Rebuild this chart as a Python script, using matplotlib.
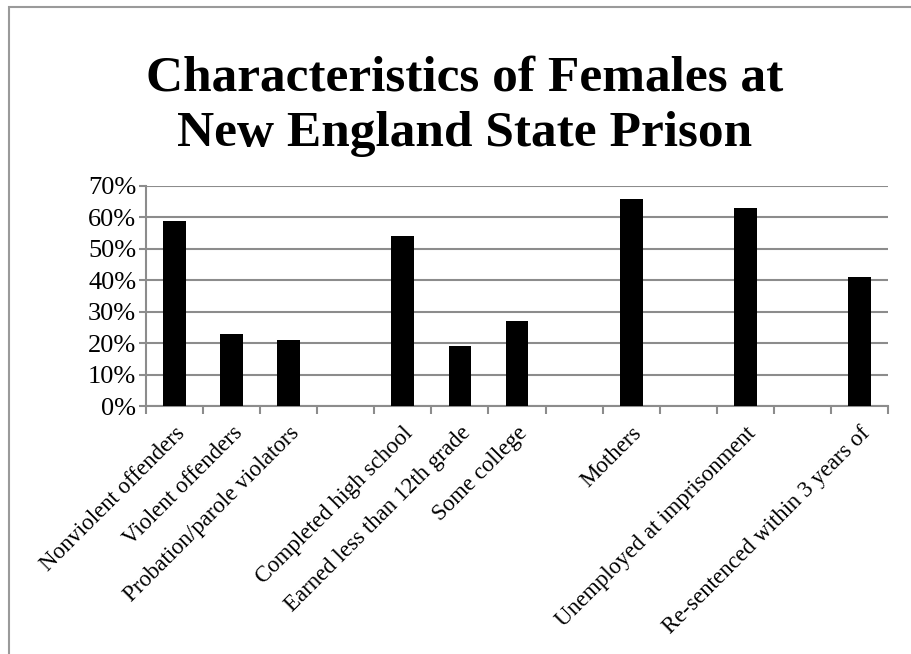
import numpy as np
import matplotlib.pyplot as plt
from matplotlib.patches import Rectangle
from matplotlib.ticker import PercentFormatter

categories = ['Nonviolent offenders', 'Violent offenders', 'Probation/parole violators', '',
              'Completed high school', 'Earned less than 12th grade', 'Some college', '',
              'Mothers', '', 'Unemployed at imprisonment', '', 'Re-sentenced within 3 years of']
values = [59, 23, 21, None, 54, 19, 27, None, 66, None, 63, None, 41]
y_ticks = [0, 10, 20, 30, 40, 50, 60, 70]

plt.rcParams['font.family'] = ['Liberation Serif', 'DejaVu Serif']
grey = '#8c8c8c'

fig = plt.figure(figsize=(9.11, 6.54), dpi=100)
ax = fig.add_axes([0.1603, 0.3792, 0.8145, 0.3364])

# frame around the chart area
fig.patches.append(Rectangle((9 / 911, -0.1), 1.2, 1 - 7 / 654 + 0.1, transform=fig.transFigure,
                             fill=False, edgecolor='#9a9a9a', linewidth=1.5))

x = np.arange(len(categories))
heights = [v if v is not None else 0 for v in values]
ax.bar(x, heights, width=0.4, color='black', zorder=3)

ax.set_xlim(-0.5, len(categories) - 0.5)
ax.set_ylim(0, 70)
ax.set_yticks(y_ticks)
ax.yaxis.set_major_formatter(PercentFormatter(decimals=0))
ax.grid(axis='y', color=grey, linewidth=1.5, zorder=0)

ax.set_xticks(x)
ax.set_xticklabels(categories, rotation=45, ha='right', rotation_mode='anchor', fontsize=16.5)
ax.set_xticks(np.arange(len(categories) + 1) - 0.5, minor=True)
ax.tick_params(axis='x', which='major', length=0, pad=12)
ax.tick_params(axis='x', which='minor', length=6, width=1.5, color=grey, direction='out')
ax.tick_params(axis='y', length=5, width=1.5, color=grey, labelsize=19, pad=2)

for side in ['top', 'right']:
    ax.spines[side].set_visible(False)
for side in ['left', 'bottom']:
    ax.spines[side].set_color(grey)
    ax.spines[side].set_linewidth(1.5)

fig.text(0.51, 0.838, 'Characteristics of Females at\nNew England State Prison',
         ha='center', va='center', fontsize=37, fontweight='bold', linespacing=1.27)

fig.savefig('out.png', dpi=100)
